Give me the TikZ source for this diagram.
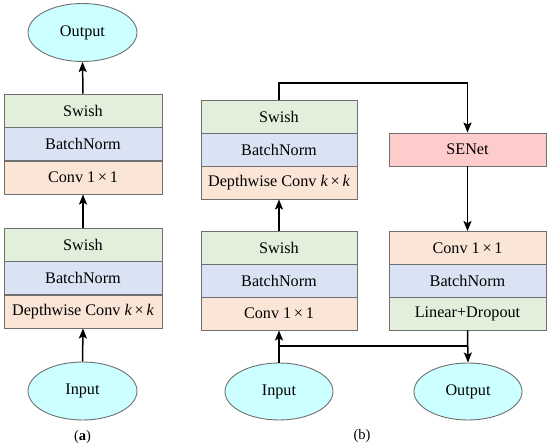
\documentclass[tikz,border=0pt]{standalone}
\usepackage{fontspec}
\setmainfont{Liberation Serif}
\usetikzlibrary{shapes.geometric,arrows.meta}
\definecolor{cgreen}{HTML}{E2EFDA}
\definecolor{cblue}{HTML}{DAE3F3}
\definecolor{corange}{HTML}{FBE5D6}
\definecolor{cpink}{HTML}{FFCCCC}
\definecolor{ccyan}{HTML}{CCFFFF}
\definecolor{cborder}{HTML}{6F6F6F}
\begin{document}
\begin{tikzpicture}[x=1pt,y=-1pt,
  layer/.style={draw=cborder,line width=0.9pt,inner sep=0pt,minimum height=33pt,font=\fontsize{16.2}{19}\selectfont},
  wa/.style={layer,minimum width=158pt},
  wb/.style={layer,minimum width=156pt},
  oval/.style={ellipse,draw=cborder,line width=0.9pt,fill=ccyan,minimum width=109pt,minimum height=58pt,inner sep=0pt,font=\fontsize{16.2}{19}\selectfont},
  conn/.style={line width=1.5pt,black},
  arr/.style={conn,-{Stealth[length=10pt,width=8pt,inset=2pt]}},
  lbl/.style={font=\fontsize{14.5}{17}\selectfont}]
\path[use as bounding box] (0,0) rectangle (550,446);
% panel (a)
\node[oval] (aout) at (82.5,32.5) {Output};
\node[wa,fill=cgreen] (as2) at (83,110.5) {Swish};
\node[wa,fill=cblue] (abn2) at (83,144) {BatchNorm};
\node[wa,fill=corange] (ac2) at (83,177.5) {Conv 1\,×\,1};
\node[wa,fill=cgreen] (as1) at (83,244.5) {Swish};
\node[wa,fill=cblue] (abn1) at (83,278) {BatchNorm};
\node[wa,fill=corange] (ac1) at (83,311.5) {Depthwise Conv \textit{k}\,×\,\textit{k}};
\node[oval] (ain) at (82.5,391) {Input};
\node[lbl] (la) at (82.5,437) {(\textbf{a})};
\draw[arr] (ain.north) -- (ac1.south);
\draw[arr] (as1.north) -- (ac2.south);
\draw[arr] (as2.north) -- (aout.south);
% panel (b)
\node[wb,fill=cgreen] (bs2) at (279,117) {Swish};
\node[wb,fill=cblue] (bbn2) at (279,149.5) {BatchNorm};
\node[wb,fill=corange] (bc2) at (279,182.5) {Depthwise Conv \textit{k}\,×\,\textit{k}};
\node[wb,fill=cgreen] (bs1) at (279,248) {Swish};
\node[wb,fill=cblue] (bbn1) at (279,280.5) {BatchNorm};
\node[wb,fill=corange] (bc1) at (279,313.5) {Conv 1\,×\,1};
\node[wb,fill=cpink,minimum width=157pt] (se) at (467.5,149.5) {SENet};
\node[wb,fill=corange,minimum width=157pt] (rc) at (467.5,248) {Conv 1\,×\,1};
\node[wb,fill=cblue,minimum width=157pt] (rbn) at (467.5,280.5) {BatchNorm};
\node[wb,fill=cgreen,minimum width=157pt] (rld) at (467.5,313.5) {Linear+Dropout};
\node[oval,minimum width=108pt,minimum height=57pt] (bin) at (279,391.5) {Input};
\node[oval,minimum width=108pt,minimum height=57pt] (bout) at (468,391.5) {Output};
\node[lbl] (lb) at (362,436) {(b)};
\coordinate (t1) at (279,83);
\coordinate (t2) at (467.5,83);
\coordinate (j1) at (279,346);
\coordinate (j2) at (467.5,346);
\draw[arr] (bs2.north) -- (t1) -- (t2) -- (se.north);
\draw[arr] (bs1.north) -- (bc2.south);
\draw[arr] (se.south) -- (rc.north);
\draw[arr] (bin.north) -- (bc1.south);
\draw[conn] (j1) -- (j2);
\draw[arr] (rld.south) -- (bout.north);
\end{tikzpicture}
\end{document}
